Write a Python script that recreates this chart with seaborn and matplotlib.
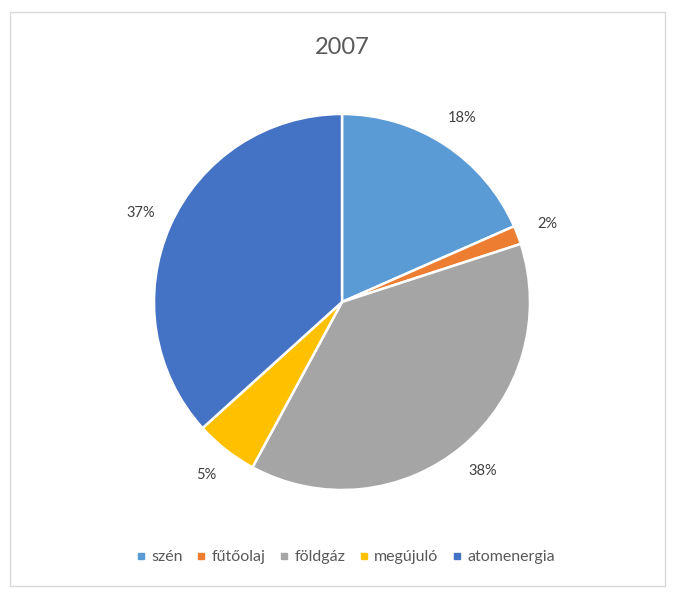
import numpy as np
import matplotlib
matplotlib.use("Agg")
import matplotlib.pyplot as plt
import seaborn as sns
from matplotlib.patches import Rectangle
from matplotlib.lines import Line2D

# data (share of electricity sources, 2007)
categories = ["szén", "fűtőolaj", "földgáz", "megújuló", "atomenergia"]
shares = [18.4, 1.6, 37.9, 5.4, 36.7]
colors = ["#5B9BD5", "#ED7D31", "#A5A5A5", "#FFC000", "#4472C4"]
title = "2007"

sns.set_theme(style="white")
plt.rcParams["font.family"] = ["Lato", "DejaVu Sans"]

W, H = 675, 596
fig = plt.figure(figsize=(W / 100, H / 100), dpi=100)

# pie axes: centre ~(342, 302) px, radius ~188 px
cx, cy, r = 342, 302, 188
ax = fig.add_axes([(cx - r) / W, (H - cy - r) / H, 2 * r / W, 2 * r / H])

palette = sns.color_palette(colors)
wedges, texts = ax.pie(
    shares,
    colors=palette,
    startangle=90,
    counterclock=False,
    radius=1.0,
    wedgeprops=dict(edgecolor="white", linewidth=1.8),
)
for w, v in zip(wedges, shares):
    ang = np.deg2rad((w.theta1 + w.theta2) / 2)
    ax.text(1.17 * np.cos(ang), 1.17 * np.sin(ang), f"{v:.0f}%",
            ha="center", va="center", fontsize=10.5, color="#404040")
ax.set_xlim(-1, 1)
ax.set_ylim(-1, 1)
ax.set_aspect("equal")
ax.axis("off")

fig.text(cx / W, 1 - 47 / H, title, ha="center", va="center",
         fontsize=17, color="#595959")

handles = [Line2D([0], [0], marker="s", linestyle="", markersize=5,
                  markerfacecolor=c, markeredgecolor=c) for c in palette]
fig.legend(handles, categories, loc="center", ncol=5, frameon=False,
           bbox_to_anchor=(346 / W, 1 - 557 / H), fontsize=11.5,
           handlelength=0.5, handletextpad=0.4, columnspacing=0.9,
           labelcolor="#595959")

# chart area border
fig.patches.append(Rectangle((10 / W, 10 / H), (W - 20) / W, (H - 22) / H,
                             transform=fig.transFigure, fill=False,
                             edgecolor="#D9D9D9", linewidth=1.0))

fig.savefig("out.png", dpi=100)
